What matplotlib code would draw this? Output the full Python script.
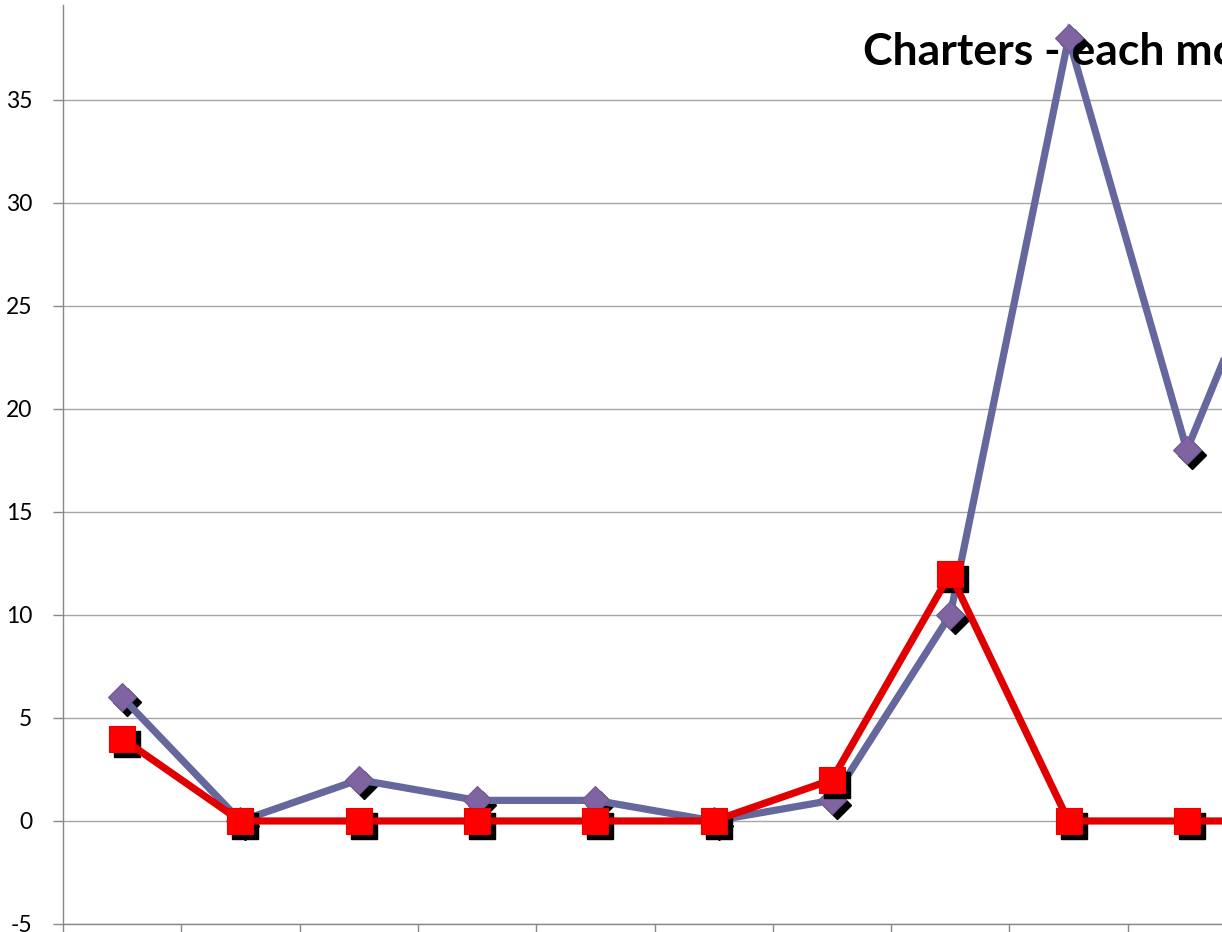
import matplotlib
matplotlib.use("Agg")
import matplotlib.pyplot as plt
import matplotlib.transforms as mtransforms
import numpy as np

# ---- data ----
months = ["Jan", "Feb", "Mar", "Apr", "May", "Jun", "Jul", "Aug", "Sep", "Oct", "Nov"]
series_purple = [6, 0, 2, 1, 1, 0, 1, 10, 38, 18, 32]
series_red = [4, 0, 0, 0, 0, 0, 2, 12, 0, 0, 0]
title = "Charters - each month"
yticks = [-5, 0, 5, 10, 15, 20, 25, 30, 35]

W, H, DPI = 1222, 932, 100
plt.rcParams['font.family'] = ['Lato', 'DejaVu Sans']
fig = plt.figure(figsize=(W / DPI, H / DPI), dpi=DPI)

ncat = 12
px_per_cat = 118.3
left_px, bottom_px, top_px = 63, 924, 5
ax = fig.add_axes([left_px / W, (H - bottom_px) / H,
                   ncat * px_per_cat / W, (bottom_px - top_px) / H])

x = np.arange(len(months))
ax.set_xlim(-0.5, ncat - 0.5)
ax.set_ylim(-5, 39.6)

grid_c = "#A6A6A6"
ax.set_yticks(yticks)
ax.set_yticklabels([str(v) for v in yticks], fontsize=16.5)
ax.yaxis.grid(True, color=grid_c, linewidth=1.0)
ax.set_axisbelow(True)
ax.set_xticks(np.arange(-0.5, ncat, 1.0))
ax.set_xticklabels([])
ax.tick_params(axis='y', length=7, width=1, color="#888888", pad=15)
ax.tick_params(axis='x', length=9, width=1, color="#888888")
for s in ["top", "right"]:
    ax.spines[s].set_visible(False)
for s in ["left", "bottom"]:
    ax.spines[s].set_color("#888888")
    ax.spines[s].set_linewidth(1.0)

shadow = ax.transData + mtransforms.ScaledTranslation(5 / DPI, -5 / DPI, fig.dpi_scale_trans)

# purple series
ax.plot(x, series_purple, linestyle='none', marker='D', ms=14, color='black',
        transform=shadow, clip_on=False, zorder=3)
ax.plot(x, series_purple, color="#65679D", linewidth=5.2, solid_joinstyle='miter',
        clip_on=False, zorder=4)
ax.plot(x, series_purple, linestyle='none', marker='D', ms=14,
        markerfacecolor="#8064A2", markeredgecolor="#6E5A93", markeredgewidth=0.8,
        clip_on=False, zorder=5)

# red series
ax.plot(x, series_red, linestyle='none', marker='s', ms=18.5, color='black',
        transform=shadow, clip_on=False, zorder=6)
ax.plot(x, series_red, color="#E00000", linewidth=5.2, clip_on=False, zorder=7)
ax.plot(x, series_red, linestyle='none', marker='s', ms=18.5,
        markerfacecolor="#FF0000", markeredgecolor="#E60000", markeredgewidth=0.8,
        clip_on=False, zorder=8)

fig.text(863 / W, 1 - 65 / H, title, fontsize=32, fontweight='bold',
         ha='left', va='baseline', color='black', zorder=2)

fig.savefig("out.png", dpi=DPI)
